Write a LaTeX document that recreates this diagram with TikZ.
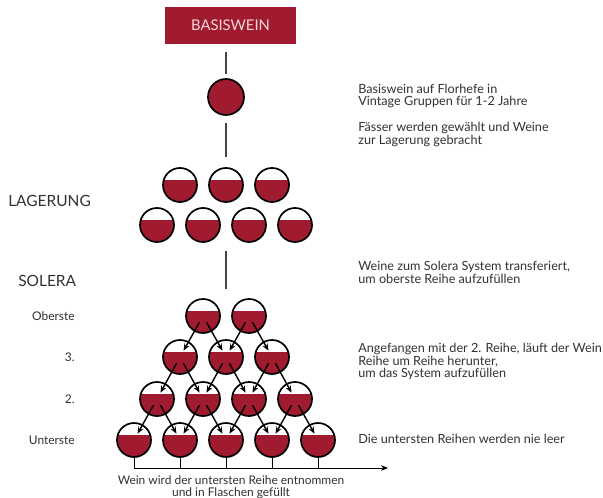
\documentclass[tikz,border=0pt]{standalone}
\usepackage{fontspec}
\setmainfont{Lato}
\usepackage{tikz}
\usetikzlibrary{arrows.meta, positioning}
\definecolor{wine}{RGB}{160,27,48}
\definecolor{boxtext}{RGB}{245,215,220}
\definecolor{inktext}{RGB}{50,50,50}
\definecolor{stem}{RGB}{70,70,70}

\begin{document}
\begin{tikzpicture}[x=0.025cm, y=-0.025cm,
    titlebox/.style={rectangle, fill=wine, minimum width=3.275cm, minimum height=0.925cm, text=boxtext, font=\fontsize{10.5}{12}\selectfont},
    fass/.style={circle, draw, line width=1.2pt, minimum size=0.85cm, inner sep=0pt,
        path picture={\fill[wine] ([yshift=0.125cm]path picture bounding box.west) rectangle (path picture bounding box.south east);}},
    fassvoll/.style={circle, draw, fill=wine, line width=1.2pt, minimum size=0.9cm, inner sep=0pt},
    link/.style={draw=stem, line width=1.1pt},
    arrow/.style={-{Stealth[length=5pt, width=4pt]}, line width=1pt, shorten <=0.18cm, shorten >=0.18cm},
    outlet/.style={line width=0.7pt},
    note/.style={anchor=west, align=left, inner sep=0pt, text=inktext, font=\fontsize{9}{8.8}\selectfont},
    rowlabel/.style={anchor=east, inner sep=0pt, text=inktext, font=\fontsize{8.5}{10}\selectfont},
    heading/.style={anchor=west, inner sep=0pt, text=inktext, font=\fontsize{11}{12}\selectfont}
]
\fill[white] (0,0) rectangle (603,498);
\useasboundingbox (0,0) rectangle (603,498);

% basiswein
\node[titlebox] (basis) at (230.5,25.5) {BASISWEIN};
\node[fassvoll] (hefe) at (226,97) {};
\draw[link, shorten <=0.2cm, shorten >=0.1cm] (basis.south -| hefe) -- (hefe);

% lagerung
\node[fass] (l1) at (180,185) {};
\node[fass] (l2) at (226,185) {};
\node[fass] (l3) at (272,185) {};
\node[fass] (m1) at (157,225) {};
\node[fass] (m2) at (203,225) {};
\node[fass] (m3) at (249,225) {};
\node[fass] (m4) at (295,225) {};
\draw[link, shorten <=0.175cm, shorten >=0.25cm] (hefe) -- (l2);

\coordinate (lagerende) at (226,251);
\coordinate (solerastart) at (226,289);
\draw[link] (lagerende) -- (solerastart);

% solera
\node[fass] (s41) at (203,316) {};
\node[fass] (s42) at (249,316) {};
\node[fass] (s31) at (180,357) {};
\node[fass] (s32) at (226,357) {};
\node[fass] (s33) at (272,357) {};
\node[fass] (s21) at (157,399) {};
\node[fass] (s22) at (203,399) {};
\node[fass] (s23) at (249,399) {};
\node[fass] (s24) at (295,399) {};
\node[fass] (s11) at (134,440) {};
\node[fass] (s12) at (180,440) {};
\node[fass] (s13) at (226,440) {};
\node[fass] (s14) at (272,440) {};
\node[fass] (s15) at (318,440) {};

\draw[arrow] (s41.center) -- (s31.center);
\draw[arrow] (s41.center) -- (s32.center);
\draw[arrow] (s42.center) -- (s32.center);
\draw[arrow] (s42.center) -- (s33.center);
\draw[arrow] (s31.center) -- (s21.center);
\draw[arrow] (s31.center) -- (s22.center);
\draw[arrow] (s32.center) -- (s22.center);
\draw[arrow] (s32.center) -- (s23.center);
\draw[arrow] (s33.center) -- (s23.center);
\draw[arrow] (s33.center) -- (s24.center);
\draw[arrow] (s21.center) -- (s11.center);
\draw[arrow] (s21.center) -- (s12.center);
\draw[arrow] (s22.center) -- (s12.center);
\draw[arrow] (s22.center) -- (s13.center);
\draw[arrow] (s23.center) -- (s13.center);
\draw[arrow] (s23.center) -- (s14.center);
\draw[arrow] (s24.center) -- (s14.center);
\draw[arrow] (s24.center) -- (s15.center);

% abfuellung
\coordinate (abfuellung) at (388,468);
\draw[outlet, -{Stealth[length=5pt, width=4pt]}] (s11.south) |- (abfuellung);
\draw[outlet] (s12.south) -- (s12 |- abfuellung);
\draw[outlet] (s13.south) -- (s13 |- abfuellung);
\draw[outlet] (s14.south) -- (s14 |- abfuellung);
\draw[outlet] (s15.south) -- (s15 |- abfuellung);
\node[align=center, text=inktext, font=\fontsize{8.5}{8.5}\selectfont] (flaschen) at (231,487) {Wein wird der untersten Reihe entnommen\\und in Flaschen gefüllt};

% labels left
\node[heading] (lagerung) at (8,200.5) {LAGERUNG};
\node[heading] (solera) at (18,281) {SOLERA};
\node[rowlabel] (oberste) at (75,316) {Oberste};
\node[rowlabel] (dritte) at (75,357) {3.};
\node[rowlabel] (zweite) at (75,399) {2.};
\node[rowlabel] (unterste) at (75,440) {Unterste};

% notes right
\node[note] (florhefe) at (358,96) {Basiswein auf Florhefe in\\Vintage Gruppen für 1-2 Jahre};
\node[note] (auswahl) at (358,134.5) {Fässer werden gewählt und Weine\\zur Lagerung gebracht};
\node[note] (transfer) at (358,272.5) {Weine zum Solera System transferiert,\\um oberste Reihe aufzufüllen};
\node[note] (herunter) at (358,361.5) {Angefangen mit der 2. Reihe, läuft der Wein\\Reihe um Reihe herunter,\\um das System aufzufüllen};
\node[note] (nieleer) at (358,439) {Die untersten Reihen werden nie leer};
\end{tikzpicture}
\end{document}
